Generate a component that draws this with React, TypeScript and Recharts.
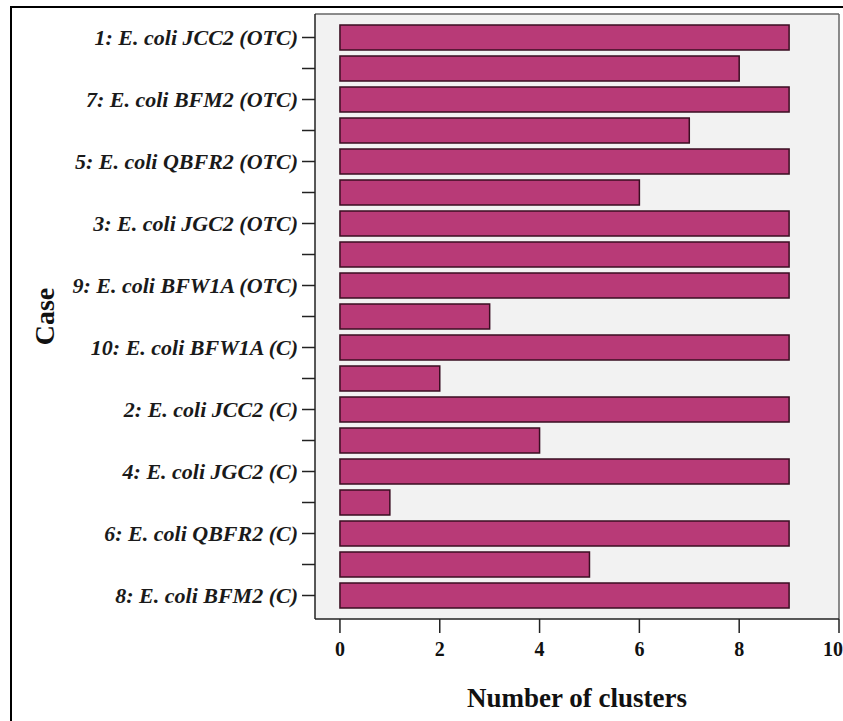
import React from 'react';
import { BarChart, Bar, XAxis, YAxis, CartesianGrid, Label } from 'recharts';

// Case labels – every other row has a tick but no label
const cases = [
  '1: E. coli JCC2 (OTC)', '',
  '7: E. coli BFM2 (OTC)', '',
  '5: E. coli QBFR2 (OTC)', '',
  '3: E. coli JGC2 (OTC)', '',
  '9: E. coli BFW1A (OTC)', '',
  '10: E. coli BFW1A (C)', '',
  '2: E. coli JCC2 (C)', '',
  '4: E. coli JGC2 (C)', '',
  '6: E. coli QBFR2 (C)', '',
  '8: E. coli BFM2 (C)',
];
const clusters = [9, 8, 9, 7, 9, 6, 9, 9, 9, 3, 9, 2, 9, 4, 9, 1, 9, 5, 9];
const xTicks = [0, 2, 4, 6, 8, 10];

const data = cases.map((c, i) => ({ id: i, label: c, clusters: clusters[i] }));

const SERIF = '"Liberation Serif", "Times New Roman", serif';

const CaseLabel = ({ viewBox }: any) => {
  const cx = viewBox.x + 44;
  const cy = viewBox.y + viewBox.height / 2;
  return (
    <text
      x={cx}
      y={cy}
      transform={`rotate(-90 ${cx} ${cy})`}
      textAnchor="middle"
      dominantBaseline="central"
      fontFamily={SERIF}
      fontWeight="bold"
      fontSize={28}
      fill="#111"
    >
      Case
    </text>
  );
};

export default function App() {
  return (
    <div style={{ position: 'absolute', left: 0, top: 0, width: 843, height: 721, overflow: 'hidden', background: '#fff' }}>
      <div style={{ position: 'absolute', left: 10, top: 6, width: 900, height: 800, border: '2px solid #000' }} />
      <div style={{ position: 'absolute', left: 0, top: 0 }}>
        <BarChart
          width={843}
          height={721}
          data={data}
          layout="vertical"
          margin={{ top: 13, right: 3, left: 0, bottom: 0 }}
          barSize={25}
        >
          <CartesianGrid fill="#f2f2f2" horizontal={false} vertical={false} />
          {/* frame lines on top and right of the plot */}
          <XAxis
            xAxisId="top"
            orientation="top"
            type="number"
            domain={[0, 1]}
            allowDataOverflow
            height={1}
            tick={false}
            tickLine={false}
            axisLine={{ stroke: '#666', strokeWidth: 1.5 }}
          />
          <YAxis
            yAxisId="right"
            orientation="right"
            type="number"
            domain={[0, 1]}
            allowDataOverflow
            width={1}
            tick={false}
            tickLine={false}
            axisLine={{ stroke: '#666', strokeWidth: 1.5 }}
          />
          <XAxis
            type="number"
            dataKey="clusters"
            domain={[-0.5, 10]}
            ticks={xTicks}
            allowDataOverflow
            height={102}
            tickSize={14}
            tickMargin={9}
            stroke="#222"
            strokeWidth={1.5}
            tick={{ fontFamily: SERIF, fontWeight: 'bold', fontSize: 20, fill: '#111' }}
          >
            <Label
              value="Number of clusters"
              position="insideBottom"
              offset={14}
              style={{ fontFamily: SERIF, fontWeight: 'bold', fontSize: 27, fill: '#111' }}
            />
          </XAxis>
          <YAxis
            type="category"
            dataKey="id"
            width={315}
            interval={0}
            padding={{ top: 8, bottom: 8 }}
            tickSize={13}
            tickMargin={4}
            stroke="#222"
            strokeWidth={1.5}
            tickFormatter={(v: number) => cases[v]}
            tick={{ fontFamily: SERIF, fontWeight: 'bold', fontStyle: 'italic', fontSize: 22, fill: '#1a1a1a' }}
          >
            <Label content={<CaseLabel />} />
          </YAxis>
          <Bar dataKey="clusters" fill="#b83a77" stroke="#3a0e22" strokeWidth={1.5} isAnimationActive={false} />
        </BarChart>
      </div>
    </div>
  );
}
